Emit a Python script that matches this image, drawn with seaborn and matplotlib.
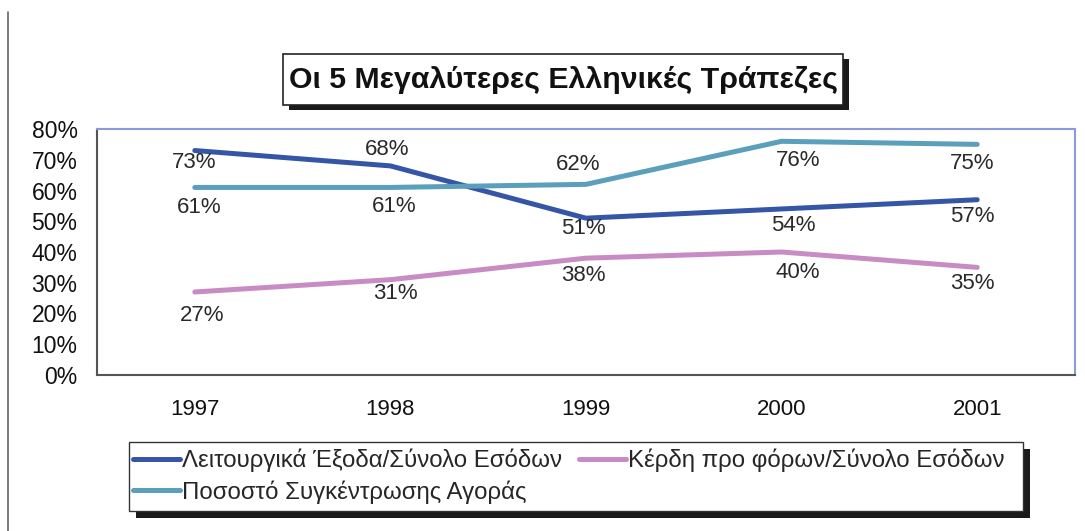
#!/usr/bin/env python3
"""
Οι 5 Μεγαλύτερες Ελληνικές Τράπεζες - line chart recreated with seaborn.
"""

import matplotlib
matplotlib.use("Agg")
import matplotlib.pyplot as plt
from matplotlib.patches import Rectangle
from matplotlib.lines import Line2D
from matplotlib.ticker import FixedLocator
import pandas as pd
import seaborn as sns

# dati
years = ["1997", "1998", "1999", "2000", "2001"]
series_names = [
    "Λειτουργικά Έξοδα/Σύνολο Εσόδων",
    "Κέρδη προ φόρων/Σύνολο Εσόδων",
    "Ποσοστό Συγκέντρωσης Αγοράς",
]
operating_costs = [73, 68, 51, 54, 57]
pretax_profits = [27, 31, 38, 40, 35]
market_concentration = [61, 61, 62, 76, 75]
y_ticks = [0, 10, 20, 30, 40, 50, 60, 70, 80]
title = "Οι 5 Μεγαλύτερες Ελληνικές Τράπεζες"

colors = ["#3556a6", "#c98bc4", "#5a9fbb"]

# label offsets in pixels (dx, dy), one list per series
label_offsets = [
    [(-1, -12), (-3, 16), (-3, -10), (12, -17), (-5, -17)],
    [(7, -24), (5, -14), (-3, -17), (16, -20), (-5, -16)],
    [(4, -20), (4, -19), (-8, 20), (17, -19), (-5, -19)],
]

df = pd.DataFrame({
    "year": years * 3,
    "value": operating_costs + pretax_profits + market_concentration,
    "series": sum([[n] * len(years) for n in series_names], []),
})

sns.set_style("white")
plt.rcParams["font.family"] = ["Liberation Sans", "DejaVu Sans"]

W, H = 1085, 531
fig = plt.figure(figsize=(W / 100, H / 100), dpi=100)
fig.patch.set_facecolor("white")


def fx(px):
    return px / W


def fy(py):
    return 1 - py / H


ax = fig.add_axes([fx(97), fy(375), fx(1075) - fx(97), fy(129) - fy(375)])

sns.lineplot(data=df, x="year", y="value", hue="series", hue_order=series_names,
             palette=colors, linewidth=3.6, ax=ax, legend=False, sort=False)

# etichette dei valori
px2pt = 72 / 100
for vals, offs in zip([operating_costs, pretax_profits, market_concentration], label_offsets):
    for i, (v, (dx, dy)) in enumerate(zip(vals, offs)):
        ax.annotate(f"{v}%", (i, v), xytext=(dx * px2pt, dy * px2pt),
                    textcoords="offset points", ha="center", va="center",
                    fontsize=16, color="#2a2a2a")

ax.set_xlim(-0.5, len(years) - 0.5)
ax.set_ylim(0, 80)
ax.set_yticks(y_ticks)
ax.set_yticklabels([f"{t}%" for t in y_ticks], fontsize=16.5, color="#111111")
ax.set_xticks(range(len(years)))
ax.set_xticklabels(years, fontsize=16, color="#111111")
ax.xaxis.set_minor_locator(FixedLocator([i - 0.5 for i in range(len(years) + 1)]))
ax.tick_params(axis="x", which="major", length=0, pad=17)
ax.tick_params(axis="x", which="minor", length=5, width=1, color="#555555", direction="out")
ax.tick_params(axis="y", length=5, width=1, color="#555555", direction="out", pad=9)
ax.set_xlabel("")
ax.set_ylabel("")
for side in ["left", "bottom"]:
    ax.spines[side].set_color("#555555")
    ax.spines[side].set_linewidth(1.5)
for side in ["top", "right"]:
    ax.spines[side].set_color("#8c9ad8")
    ax.spines[side].set_linewidth(1.5)

# riquadro del titolo con ombra
fig.add_artist(Rectangle((fx(289), fy(110)), fx(849) - fx(289), fy(59) - fy(110),
                         transform=fig.transFigure, facecolor="#1a1a1a", edgecolor="none"))
fig.add_artist(Rectangle((fx(283), fy(105)), fx(843) - fx(283), fy(54) - fy(105),
                         transform=fig.transFigure, facecolor="white", edgecolor="#222222",
                         linewidth=1.2))
fig.text(fx(564), fy(80), title, ha="center", va="center", fontsize=21.8,
         fontweight="bold", color="#111111")

# riquadro della legenda con ombra
fig.add_artist(Rectangle((fx(136), fy(518)), fx(1030) - fx(136), fy(449) - fy(518),
                         transform=fig.transFigure, facecolor="#1a1a1a", edgecolor="none"))
fig.add_artist(Rectangle((fx(129), fy(511)), fx(1023) - fx(129), fy(442) - fy(511),
                         transform=fig.transFigure, facecolor="white", edgecolor="#333333",
                         linewidth=1.0))
handles = [Line2D([0], [0], color=c, linewidth=3.6) for c in colors]
order = [0, 2, 1]
leg = fig.legend([handles[i] for i in order], [series_names[i] for i in order],
                 loc="upper left", bbox_to_anchor=(fx(133), fy(449)), ncol=2,
                 frameon=False, handlelength=1.95, handletextpad=0.1,
                 columnspacing=0.7, labelspacing=0.32, borderaxespad=0,
                 borderpad=0, prop={"size": 17.3})

# bordo della scansione a sinistra
fig.add_artist(Line2D([fx(8), fx(8)], [fy(12), 0], transform=fig.transFigure,
                      color="#666666", linewidth=1.2))

fig.savefig("out.png", dpi=100)
